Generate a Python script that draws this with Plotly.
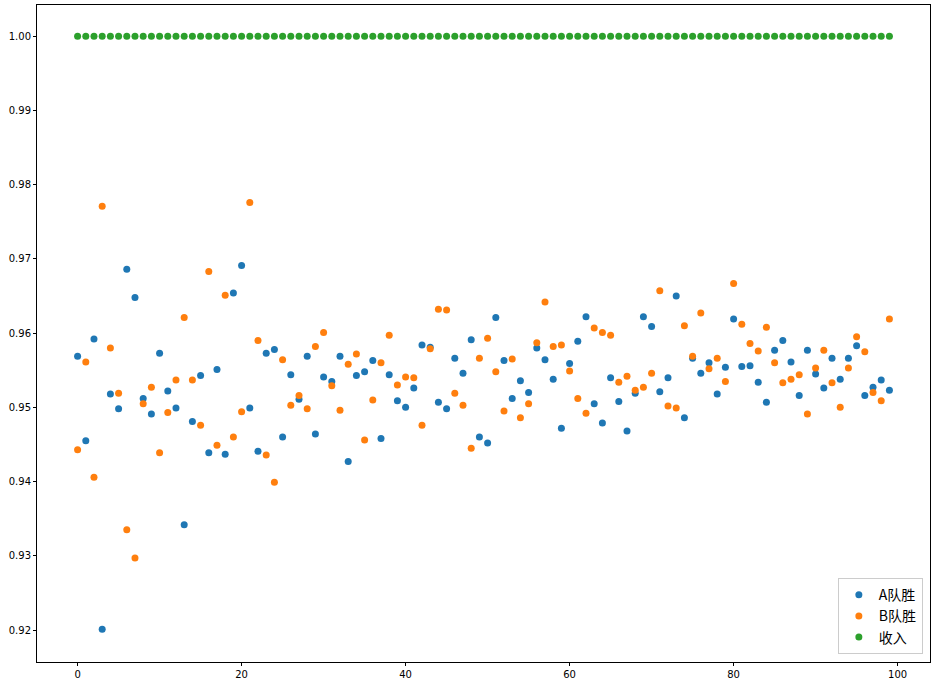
import plotly.graph_objects as go

x_vals = list(range(100))

team_a = [0.9569, 0.9455, 0.9592, 0.9201, 0.9518, 0.9498, 0.9686, 0.9648, 0.9512, 0.9491,
          0.9573, 0.9522, 0.9499, 0.9342, 0.9481, 0.9543, 0.9439, 0.9551, 0.9437, 0.9654,
          0.9691, 0.9499, 0.9441, 0.9573, 0.9578, 0.9460, 0.9544, 0.9511, 0.9569, 0.9464,
          0.9541, 0.9535, 0.9569, 0.9427, 0.9543, 0.9548, 0.9563, 0.9458, 0.9544, 0.9509,
          0.9500, 0.9526, 0.9584, 0.9581, 0.9507, 0.9498, 0.9566, 0.9546, 0.9591, 0.9460,
          0.9452, 0.9621, 0.9563, 0.9512, 0.9536, 0.9520, 0.9580, 0.9564, 0.9538, 0.9472,
          0.9559, 0.9589, 0.9622, 0.9505, 0.9479, 0.9540, 0.9508, 0.9468, 0.9519, 0.9622,
          0.9609, 0.9521, 0.9540, 0.9650, 0.9486, 0.9566, 0.9546, 0.9560, 0.9518, 0.9554,
          0.9619, 0.9555, 0.9556, 0.9534, 0.9507, 0.9577, 0.9590, 0.9561, 0.9516, 0.9577,
          0.9545, 0.9526, 0.9566, 0.9538, 0.9566, 0.9583, 0.9516, 0.9527, 0.9537, 0.9523]

team_b = [0.9443, 0.9561, 0.9406, 0.9771, 0.9580, 0.9519, 0.9335, 0.9297, 0.9505, 0.9527,
          0.9439, 0.9493, 0.9537, 0.9621, 0.9537, 0.9476, 0.9683, 0.9449, 0.9651, 0.9460,
          0.9494, 0.9776, 0.9590, 0.9436, 0.9399, 0.9564, 0.9503, 0.9516, 0.9498, 0.9582,
          0.9601, 0.9529, 0.9496, 0.9558, 0.9572, 0.9456, 0.9510, 0.9560, 0.9597, 0.9530,
          0.9541, 0.9540, 0.9476, 0.9579, 0.9632, 0.9631, 0.9519, 0.9503, 0.9445, 0.9566,
          0.9593, 0.9548, 0.9495, 0.9565, 0.9486, 0.9505, 0.9587, 0.9642, 0.9582, 0.9584,
          0.9549, 0.9512, 0.9492, 0.9607, 0.9601, 0.9597, 0.9534, 0.9542, 0.9523, 0.9527,
          0.9546, 0.9657, 0.9502, 0.9499, 0.9610, 0.9569, 0.9627, 0.9552, 0.9566, 0.9535,
          0.9667, 0.9612, 0.9586, 0.9576, 0.9608, 0.9560, 0.9533, 0.9538, 0.9544, 0.9491,
          0.9553, 0.9577, 0.9533, 0.9500, 0.9553, 0.9595, 0.9575, 0.9520, 0.9509, 0.9619]

income = [1.0] * 100

series_names = ["A队胜", "B队胜", "收入"]
series_colors = ["#1f77b4", "#ff7f0e", "#2ca02c"]

y_ticks = [0.92, 0.93, 0.94, 0.95, 0.96, 0.97, 0.98, 0.99, 1.00]
x_ticks = [0, 20, 40, 60, 80, 100]

fig = go.Figure()
for name, ys, col in zip(series_names, [team_a, team_b, income], series_colors):
    fig.add_trace(go.Scatter(x=x_vals, y=ys, mode="markers", name=name,
                             marker=dict(color=col, size=7, line=dict(width=0))))

axis_common = dict(showgrid=False, zeroline=False, showline=True, linecolor="black",
                   linewidth=1, mirror=True, ticks="outside", ticklen=3, tickcolor="black",
                   automargin=False,
                   tickfont=dict(family="DejaVu Sans", size=10, color="black"))

fig.update_layout(
    width=936, height=683,
    margin=dict(l=37, r=6, t=5, b=21, pad=0),
    plot_bgcolor="white", paper_bgcolor="white",
    xaxis=dict(range=[-4.95, 103.95], tickvals=x_ticks, ticklabelstandoff=0, **axis_common),
    yaxis=dict(range=[0.9157, 1.0042], tickvals=y_ticks, tickformat=".2f", **axis_common),
    legend=dict(x=0.992, y=0.012, xanchor="right", yanchor="bottom",
                bgcolor="rgba(255,255,255,0.8)", bordercolor="#cccccc", borderwidth=1,
                font=dict(family="Noto Sans CJK SC", size=14, color="black"),
                itemsizing="trace", tracegroupgap=0),
    showlegend=True,
)

fig.write_html("out.html", config={"displayModeBar": False},
               post_script="document.body.style.margin='0';document.body.style.overflow='hidden';")
